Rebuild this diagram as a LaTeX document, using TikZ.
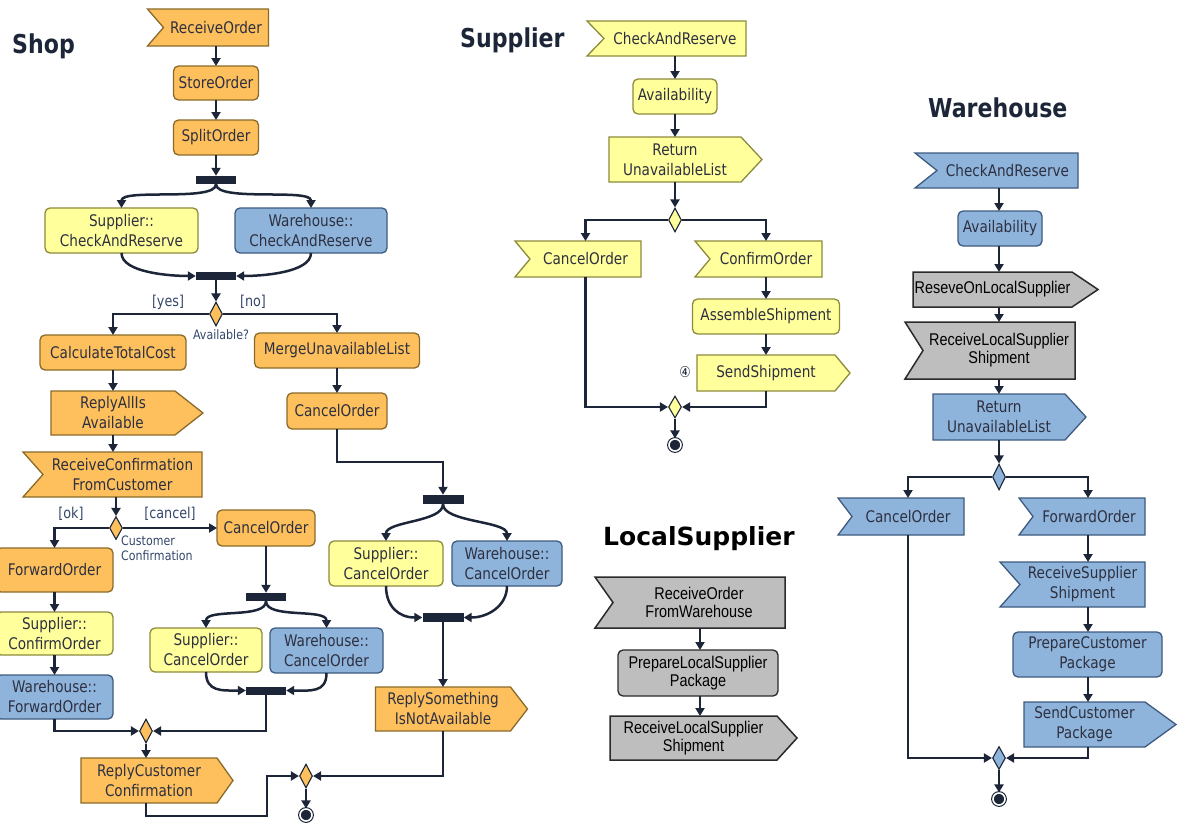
\documentclass[tikz,border=0pt]{standalone}
\usepackage{fontspec}
\setmainfont{DejaVu Sans}[FakeStretch=0.85]
\newfontfamily\grayfont{Liberation Sans}[FakeStretch=0.85]
\newfontfamily\heavyfont{DejaVu Sans}
\usetikzlibrary{arrows.meta,shapes.geometric,calc}
\pgfdeclarelayer{bg}
\pgfsetlayers{bg,main}

\definecolor{shopfill}{HTML}{FDC05C}
\definecolor{shopline}{HTML}{8A6A2A}
\definecolor{supfill}{HTML}{FFFF9C}
\definecolor{supline}{HTML}{8C8A3C}
\definecolor{whfill}{HTML}{8EB4DC}
\definecolor{whline}{HTML}{3E5A7E}
\definecolor{lsfill}{HTML}{BEBEBE}
\definecolor{lsline}{HTML}{2A2A2A}
\definecolor{ink}{HTML}{1C2638}
\definecolor{txt}{HTML}{2E3040}
\definecolor{lbl}{HTML}{34466A}

% outline of a receive (notched) action and of a send (pointed) action
\newcommand\recvpath[3]{\path[#3] ($(#1.north west)+(-#2,0)$) -- (#1.north east) -- (#1.south east) -- ($(#1.south west)+(-#2,0)$) -- (#1.west) -- cycle;}
\newcommand\sendpath[3]{\path[#3] (#1.north west) -- (#1.north east) -- ($(#1.east)+(#2,0)$) -- (#1.south east) -- (#1.south west) -- cycle;}

\tikzset{
  base/.style={inner sep=0pt, outer sep=0pt, align=center, text=txt, font=\fontsize{16}{20}\selectfont},
  sz/.style 2 args={minimum width=#1, minimum height=#2},
  act/.style={base, rounded corners=5pt, draw, line width=1.3pt},
  shopact/.style={act, fill=shopfill, draw=shopline},
  supact/.style={act, fill=supfill, draw=supline},
  whact/.style={act, fill=whfill, draw=whline},
  lsact/.style={act, fill=lsfill, draw=lsline, text=black, font=\grayfont\fontsize{17}{18}\selectfont},
  sig/.style={base},
  graysig/.style={base, text=black, font=\grayfont\fontsize{17}{18}\selectfont},
  shopsig/.style={fill=shopfill, draw=shopline, line width=1.3pt},
  supsig/.style={fill=supfill, draw=supline, line width=1.3pt},
  whsig/.style={fill=whfill, draw=whline, line width=1.3pt},
  lssig/.style={fill=lsfill, draw=lsline, line width=1.5pt},
  bar/.style={fill=ink, inner sep=0pt, minimum width=40, minimum height=8},
  dec/.style={diamond, draw=ink, line width=1.1pt, inner sep=0pt, minimum width=13, minimum height=24},
  endn/.style={circle, fill=ink, draw=ink, line width=1.1pt, double=white, double distance=1.6pt, inner sep=0pt, minimum size=12},
  arr/.style={draw=ink, line width=2.5pt, -{Triangle[length=8pt,width=9pt]}},
  lane/.style={font=\bfseries\fontsize{26}{30}\selectfont, text=ink, inner sep=0pt},
  guard/.style={text=lbl, font=\fontsize{15}{18}\selectfont, inner sep=0pt},
  note/.style={text=lbl, font=\fontsize{13}{15}\selectfont, inner sep=0pt},
}

\begin{document}
\begin{tikzpicture}[x=1pt,y=-1pt]
\useasboundingbox (0,0) rectangle (1180,825);

% ---------------- Shop ----------------
\node[lane, anchor=base west] (tshop) at (12,53) {Shop};
\node[sig, sz={105}{37}] (s_recv) at (216,27.5) {ReceiveOrder};
\node[shopact, sz={85}{34}] (s_store) at (216,83) {StoreOrder};
\node[shopact, sz={85}{35}] (s_split) at (216,137.5) {SplitOrder};
\node[bar] (fork1) at (216,180) {};
\node[supact, sz={153}{45}] (s_supcr) at (121.5,230.5) {Supplier::\\CheckAndReserve};
\node[whact, sz={152}{45}] (s_whcr) at (311,230.5) {Warehouse::\\CheckAndReserve};
\node[bar] (join1) at (216,276) {};
\node[dec, fill=shopfill] (dec1) at (216,314) {};
\node[guard] (gyes) at (168,302) {[yes]};
\node[guard] (gno) at (253,302) {[no]};
\node[note] (navail) at (221,335) {Available?};
\node[shopact, sz={146}{35}] (s_calc) at (113,352.5) {CalculateTotalCost};
\node[shopact, sz={165}{35}] (s_merge) at (337,350.5) {MergeUnavailableList};
\node[sig, sz={124}{44}] (s_replyall) at (113,413) {ReplyAllIs\\Available};
\node[shopact, sz={100}{36}] (s_cancel1) at (337,411) {CancelOrder};
\node[sig, sz={159}{45}] (s_recvconf) at (122.5,474.5) {ReceiveConfirmation\\FromCustomer};
\node[dec, fill=shopfill, minimum height=23] (dec2) at (116,528) {};
\node[guard] (gok) at (71,514) {[ok]};
\node[guard] (gcancel) at (170,514) {[cancel]};
\node[note, anchor=west, align=left] (nconf) at (121,548) {Customer\\Confirmation};
\node[shopact, sz={98}{36}] (s_cancel2) at (266,528) {CancelOrder};
\node[shopact, sz={117}{44}] (s_fwd) at (54.5,570) {ForwardOrder};
\node[supact, sz={117}{43}] (s_supconf) at (54.5,633.5) {Supplier::\\ConfirmOrder};
\node[whact, sz={117}{44}] (s_whfwd) at (54.5,697) {Warehouse::\\ForwardOrder};
\node[bar] (fork2) at (266,597) {};
\node[supact, sz={112}{44}] (s_supcan2) at (206,650) {Supplier::\\CancelOrder};
\node[whact, sz={113}{45}] (s_whcan2) at (326.5,650.5) {Warehouse::\\CancelOrder};
\node[bar] (join2) at (266,690.5) {};
\node[dec, fill=shopfill] (dec3) at (146,731) {};
\node[sig, sz={136}{45}] (s_replycust) at (149,780.5) {ReplyCustomer\\Confirmation};
\node[dec, fill=shopfill] (dec4) at (306,776) {};
\node[endn] (end1) at (306,815) {};
\node[bar, minimum width=41, minimum height=9] (fork3) at (443,499.5) {};
\node[supact, sz={114}{45}] (s_supcan3) at (386,563.5) {Supplier::\\CancelOrder};
\node[whact, sz={110}{45}] (s_whcan3) at (507,563.5) {Warehouse::\\CancelOrder};
\node[bar, minimum width=41, minimum height=9] (join3) at (443,617.5) {};
\node[sig, sz={135}{44}] (s_replysome) at (443,709) {ReplySomething\\IsNotAvailable};
\coordinate (r1) at (146,816);
\coordinate (r2) at (267,776);

% ---------------- Supplier ----------------
\node[lane, anchor=base west] (tsup) at (460,47) {Supplier};
\node[sig, sz={142}{35}] (p_recv) at (675,38.5) {CheckAndReserve};
\node[supact, sz={84}{35}] (p_avail) at (675,96.5) {Availability};
\node[sig, sz={132}{45}] (p_ret) at (675,159.5) {Return\\UnavailableList};
\node[dec, fill=supfill] (p_dec) at (675,220) {};
\node[sig, sz={111}{36}] (p_cancel) at (585.5,259) {CancelOrder};
\node[sig, sz={112}{36}] (p_confirm) at (766,259) {ConfirmOrder};
\node[supact, sz={147}{35}] (p_assemble) at (766,316.5) {AssembleShipment};
\node[sig, sz={138}{36}] (p_send) at (766,373) {SendShipment};
\node[text=ink, inner sep=0pt, font=\fontsize{15}{15}\selectfont] (p_mark) at (685,372) {④};
\node[dec, fill=supfill, minimum height=22] (p_dec2) at (675,407) {};
\node[endn] (p_end) at (675,445) {};

% ---------------- Warehouse ----------------
\node[lane, anchor=base west] (twh) at (928,117) {Warehouse};
\coordinate (wl) at (999,0);
\coordinate (wr) at (1088,0);
\node[sig, sz={141}{35}] (w_recv) at (1007.5,170.5) {CheckAndReserve};
\node[whact, sz={84}{35}] (w_avail) at (1000,228.5) {Availability};
\node[graysig, sz={159}{35}] (w_reserve) at (992.5,289.5) {ReseveOnLocalSupplier};
\node[graysig, sz={152}{57}] (w_recvls) at (999,350.5) {ReceiveLocalSupplier\\Shipment};
\node[sig, sz={132}{46}] (w_ret) at (999,417) {Return\\UnavailableList};
\node[dec, fill=whfill, minimum height=26] (w_dec) at (999,477) {};
\node[sig, sz={112}{37}] (w_cancel) at (908,516.5) {CancelOrder};
\node[sig, sz={112}{37}] (w_fwd) at (1089,516.5) {ForwardOrder};
\node[sig, sz={125}{45}] (w_recvsup) at (1082.5,584.5) {ReceiveSupplier\\Shipment};
\node[whact, sz={149}{45}] (w_prep) at (1087.5,654.5) {PrepareCustomer\\Package};
\node[sig, sz={121}{45}] (w_sendc) at (1084.5,724.5) {SendCustomer\\Package};
\node[dec, fill=whfill, minimum height=23] (w_dec2) at (999,758) {};
\node[endn] (w_end) at (999,799) {};

% ---------------- LocalSupplier ----------------
\node[anchor=base west, inner sep=0pt, text=black, font=\heavyfont\bfseries\fontsize{25}{28}\selectfont] (tls) at (603,545) {LocalSupplier};
\coordinate (lc) at (700,0);
\node[graysig, sz={172}{51}] (l_recv) at (699,602.5) {ReceiveOrder\\FromWarehouse};
\node[lsact, sz={160}{46}] (l_prep) at (698,673) {PrepareLocalSupplier\\Package};
\node[graysig, sz={167}{44}] (l_send) at (693.5,738) {ReceiveLocalSupplier\\Shipment};

% outlines of send / receive actions
\begin{pgfonlayer}{bg}
\recvpath{s_recv}{16}{shopsig}
\sendpath{s_replyall}{28}{shopsig}
\recvpath{s_recvconf}{20}{shopsig}
\sendpath{s_replycust}{16}{shopsig}
\sendpath{s_replysome}{17}{shopsig}
\recvpath{p_recv}{17}{supsig}
\sendpath{p_ret}{21}{supsig}
\recvpath{p_cancel}{15}{supsig}
\recvpath{p_confirm}{15}{supsig}
\sendpath{p_send}{15}{supsig}
\recvpath{w_recv}{22}{whsig}
\sendpath{w_reserve}{26}{lssig}
\recvpath{w_recvls}{18}{lssig}
\sendpath{w_ret}{21}{whsig}
\recvpath{w_cancel}{14}{whsig}
\recvpath{w_fwd}{14}{whsig}
\recvpath{w_recvsup}{20}{whsig}
\sendpath{w_sendc}{31}{whsig}
\recvpath{l_recv}{18}{lssig}
\sendpath{l_send}{20}{lssig}
\end{pgfonlayer}

% ---------------- Shop flow ----------------
\draw[arr] (s_recv) -- (s_store);
\draw[arr] (s_store) -- (s_split);
\draw[arr] (s_split) -- (fork1);
\draw[arr] (fork1.south) .. controls +(0,18) and +(0,-20) .. (s_supcr.north);
\draw[arr] (fork1.south) .. controls +(0,18) and +(0,-20) .. (s_whcr.north);
\draw[arr] (s_supcr.south) .. controls +(0,20) and +(-24,0) .. (join1.west);
\draw[arr] (s_whcr.south) .. controls +(0,20) and +(24,0) .. (join1.east);
\draw[arr] (join1) -- (dec1);
\draw[arr] (dec1.west) -| (s_calc.north);
\draw[arr] (dec1.east) -| (s_merge.north);
\draw[arr] (s_calc) -- (s_replyall);
\draw[arr] (s_replyall.south) -- (s_replyall.south |- s_recvconf.north);
\draw[arr] (s_recvconf.south -| dec2) -- (dec2.north);
\draw[arr] (s_merge) -- (s_cancel1);
\draw[arr] (s_cancel1.south) -- ++(0,33) -| (fork3.north);
\draw[arr] (fork3.south) .. controls +(0,18) and +(0,-20) .. (s_supcan3.north);
\draw[arr] (fork3.south) .. controls +(0,18) and +(0,-20) .. (s_whcan3.north);
\draw[arr] (s_supcan3.south) .. controls +(0,20) and +(-24,0) .. (join3.west);
\draw[arr] (s_whcan3.south) .. controls +(0,20) and +(24,0) .. (join3.east);
\draw[arr] (join3) -- (s_replysome);
\draw[arr] (s_replysome.south) |- (dec4.east);
\draw[arr] (dec2.west) -| (s_fwd.north);
\draw[arr] (dec2.east) -- (s_cancel2.west);
\draw[arr] (s_cancel2) -- (fork2);
\draw[arr] (fork2.south) .. controls +(0,18) and +(0,-20) .. (s_supcan2.north);
\draw[arr] (fork2.south) .. controls +(0,18) and +(0,-20) .. (s_whcan2.north);
\draw[arr] (s_supcan2.south) .. controls +(0,20) and +(-24,0) .. (join2.west);
\draw[arr] (s_whcan2.south) .. controls +(0,20) and +(24,0) .. (join2.east);
\draw[arr] (join2.south) |- (dec3.east);
\draw[arr] (s_fwd) -- (s_supconf);
\draw[arr] (s_supconf) -- (s_whfwd);
\draw[arr] (s_whfwd.south) |- (dec3.west);
\draw[arr] (dec3.south) -- (dec3.south |- s_replycust.north);
\draw[arr] (dec3 |- s_replycust.south) -- (r1) -| (r2) -- (dec4.west);
\draw[arr] (dec4) -- (end1);

% ---------------- Supplier flow ----------------
\draw[arr] (p_recv) -- (p_avail);
\draw[arr] (p_avail) -- (p_ret);
\draw[arr] (p_ret) -- (p_dec);
\draw[arr] (p_dec.west) -| (p_cancel.north);
\draw[arr] (p_dec.east) -| (p_confirm.north);
\draw[arr] (p_confirm) -- (p_assemble);
\draw[arr] (p_assemble) -- (p_send);
\draw[arr] (p_cancel.south) |- (p_dec2.west);
\draw[arr] (p_send.south) |- (p_dec2.east);
\draw[arr] (p_dec2) -- (p_end);

% ---------------- Warehouse flow ----------------
\draw[arr] (w_recv.south -| wl) -- (w_avail.north -| wl);
\draw[arr] (w_avail.south -| wl) -- (w_reserve.north -| wl);
\draw[arr] (w_reserve.south -| wl) -- (w_recvls.north -| wl);
\draw[arr] (w_recvls.south -| wl) -- (w_ret.north -| wl);
\draw[arr] (w_ret.south -| wl) -- (w_dec.north);
\draw[arr] (w_dec.west) -| (w_cancel.north);
\draw[arr] (w_dec.east) -| (w_fwd.north -| wr);
\draw[arr] (w_fwd.south -| wr) -- (w_recvsup.north -| wr);
\draw[arr] (w_recvsup.south -| wr) -- (w_prep.north -| wr);
\draw[arr] (w_prep.south -| wr) -- (w_sendc.north -| wr);
\draw[arr] (w_cancel.south) |- (w_dec2.west);
\draw[arr] (w_sendc.south -| wr) |- (w_dec2.east);
\draw[arr] (w_dec2) -- (w_end);

% ---------------- LocalSupplier flow ----------------
\draw[arr] (l_recv.south -| lc) -- (l_prep.north -| lc);
\draw[arr] (l_prep.south -| lc) -- (l_send.north -| lc);
\end{tikzpicture}
\end{document}
